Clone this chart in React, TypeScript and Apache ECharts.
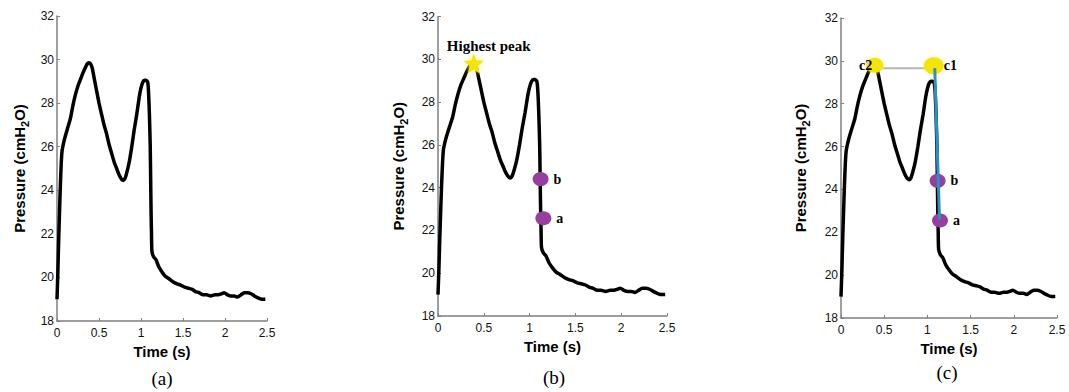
import React, { useEffect, useRef } from "react";
import * as echarts from "echarts";

// Pressure waveform
const time = [
  0.0, 0.01, 0.02, 0.03, 0.04, 0.05, 0.06, 0.08, 0.1, 0.13, 0.16, 0.19, 0.22, 0.25, 0.28, 0.31, 0.34, 0.36, 0.38, 0.4,
  0.42, 0.44, 0.46, 0.5, 0.53, 0.56, 0.59, 0.62, 0.65, 0.68, 0.71, 0.74, 0.77, 0.79, 0.81, 0.83, 0.86, 0.89, 0.92, 0.95,
  0.98, 1.0, 1.02, 1.04, 1.06, 1.08, 1.09, 1.1, 1.11, 1.115, 1.12, 1.125, 1.13, 1.15, 1.18, 1.21, 1.25, 1.29, 1.33, 1.38,
  1.43, 1.47, 1.52, 1.57, 1.61, 1.65, 1.69, 1.74, 1.78, 1.83, 1.88, 1.92, 1.96, 1.99, 2.03, 2.07, 2.11, 2.15, 2.19, 2.23,
  2.27, 2.31, 2.35, 2.4, 2.44, 2.48,
];
const pressure = [
  19.0, 20.2, 21.7, 23.0, 24.2, 25.2, 25.8, 26.2, 26.5, 26.9, 27.3, 27.9, 28.4, 28.8, 29.1, 29.4, 29.65, 29.8, 29.85, 29.8,
  29.6, 29.2, 28.8, 28.0, 27.5, 27.0, 26.6, 26.1, 25.7, 25.3, 25.0, 24.7, 24.5, 24.45, 24.55, 24.8, 25.3, 26.0, 26.8, 27.5,
  28.3, 28.7, 28.95, 29.05, 29.05, 28.95, 28.5, 27.5, 26.0, 24.5, 23.0, 22.0, 21.2, 20.95, 20.8, 20.5, 20.25, 20.05, 19.95, 19.8,
  19.7, 19.65, 19.55, 19.5, 19.45, 19.35, 19.3, 19.2, 19.2, 19.15, 19.2, 19.2, 19.25, 19.3, 19.2, 19.15, 19.15, 19.1, 19.2, 19.3,
  19.3, 19.25, 19.15, 19.05, 19.0, 19.0,
];

// Annotation points
const highestPeak = [0.39, 29.8];
const pointB_b = [1.12, 24.4];
const pointA_b = [1.15, 22.57];
const pointC2 = [0.39, 29.8];
const pointC1 = [1.074, 29.77];
const pointB_c = [1.118, 24.4];
const pointA_c = [1.146, 22.55];
const grayLine = [[0.39, 29.66], [1.085, 29.66]];
const blueLine = [[1.085, 29.66], [1.14, 22.6]];

const panelLabels = ["(a)", "(b)", "(c)"];
const xRange = [0, 2.5, 0.5];
const yRange = [18, 32, 2];

const SANS = "Arial";
const SERIF = "Liberation Serif";
const STAR = "path://M12 0 L15 8 L24 9 L17 15 L19 24 L12 19 L5 24 L7 15 L0 9 L9 8 Z";
const YELLOW = "#f4e40c";
const PURPLE = "#973f9f";

export default function App() {
  const ref = useRef<HTMLDivElement>(null);
  useEffect(() => {
    if (!ref.current) return;
    const chart = echarts.init(ref.current, null, { renderer: "svg" });
    const curve = time.map((t, i) => [t, pressure[i]]);

    const grids = [
      { left: 57, top: 16, width: 210, height: 305 },
      { left: 438, top: 16.5, width: 229, height: 299.5 },
      { left: 841, top: 18, width: 216, height: 300 },
    ];
    const xGaps = [19, 17, 18];
    const yGaps = [27, 29, 30];

    const axisLine = { show: true, lineStyle: { color: "#7f7f7f", width: 1.5 } };
    const xAxis = grids.map((_, i) => ({
      type: "value",
      gridIndex: i,
      min: xRange[0],
      max: xRange[1],
      interval: xRange[2],
      name: "Time (s)",
      nameLocation: "middle",
      nameGap: xGaps[i],
      nameTextStyle: { fontFamily: SANS, fontSize: 15, fontWeight: "bold", color: "#000" },
      axisLine,
      axisTick: { show: true, inside: true, length: 3, lineStyle: { color: "#7f7f7f" } },
      axisLabel: { fontFamily: SANS, fontSize: 12, color: "#111", margin: 6 },
      splitLine: { show: false },
    }));
    const yAxis = grids.map((_, i) => ({
      type: "value",
      gridIndex: i,
      min: yRange[0],
      max: yRange[1],
      interval: yRange[2],
      name: "{n|Pressure (cmH}{s|2}{n|O)}",
      nameLocation: "middle",
      nameGap: yGaps[i],
      nameTextStyle: {
        rich: {
          n: { fontFamily: SANS, fontSize: 15, fontWeight: "bold", color: "#000" },
          s: { fontFamily: SANS, fontSize: 11, fontWeight: "bold", color: "#000", padding: [11, 0, 0, 0] },
        },
      },
      axisLine,
      axisTick: { show: true, inside: true, length: 3, lineStyle: { color: "#7f7f7f" } },
      axisLabel: { fontFamily: SANS, fontSize: 12, color: "#111", margin: 3 },
      splitLine: { show: false },
    }));

    const curveSeries = grids.map((_, i) => ({
      type: "line",
      xAxisIndex: i,
      yAxisIndex: i,
      data: curve,
      showSymbol: false,
      symbol: "none",
      smooth: 0.2,
      lineStyle: { color: "#000", width: 3.5 },
      z: 2,
    }));

    const ptLabel = (pos: string, dist: number) => ({
      show: true,
      position: pos,
      distance: dist,
      fontFamily: SERIF,
      fontWeight: "bold",
      fontSize: 14,
      color: "#000",
    });

    const series: any[] = [
      ...curveSeries,
      // Panel b
      {
        type: "scatter",
        xAxisIndex: 1,
        yAxisIndex: 1,
        data: [highestPeak],
        symbol: STAR,
        symbolSize: 20,
        itemStyle: { color: YELLOW, opacity: 1, shadowBlur: 6, shadowColor: "#fff27a" },
        label: {
          ...ptLabel("top", 0),
          formatter: "Highest peak",
          fontSize: 15,
          offset: [15, 0],
        },
        z: 5,
      },
      {
        type: "scatter",
        xAxisIndex: 1,
        yAxisIndex: 1,
        data: [
          { value: pointB_b, name: "b" },
          { value: pointA_b, name: "a" },
        ],
        symbol: "circle",
        symbolSize: [16, 14],
        itemStyle: { color: PURPLE, opacity: 1 },
        label: { ...ptLabel("right", 5), formatter: "{b}" },
        z: 5,
      },
      // Panel c
      {
        type: "line",
        xAxisIndex: 2,
        yAxisIndex: 2,
        data: grayLine,
        symbol: "none",
        lineStyle: { color: "#b4b4b4", width: 2 },
        z: 3,
      },
      {
        type: "scatter",
        xAxisIndex: 2,
        yAxisIndex: 2,
        data: [
          { value: pointC2, name: "c2", symbolSize: [17, 15], label: { position: "left", distance: -6 } },
          { value: pointC1, name: "c1", symbolSize: [20, 17], label: { position: "right", distance: 0 } },
        ],
        symbol: "circle",
        itemStyle: { color: YELLOW, opacity: 1, shadowBlur: 4, shadowColor: "#fff27a" },
        label: { ...ptLabel("right", 0), formatter: "{b}" },
        z: 4,
      },
      {
        type: "scatter",
        xAxisIndex: 2,
        yAxisIndex: 2,
        data: [
          { value: pointB_c, name: "b" },
          { value: pointA_c, name: "a" },
        ],
        symbol: "circle",
        symbolSize: [16, 14],
        itemStyle: { color: PURPLE, opacity: 1 },
        label: { ...ptLabel("right", 5), formatter: "{b}" },
        z: 4,
      },
      {
        type: "line",
        xAxisIndex: 2,
        yAxisIndex: 2,
        data: blueLine,
        symbol: "none",
        lineStyle: { color: "#2f8fc0", width: 3 },
        z: 6,
      },
    ];

    const captionX = [162, 554, 947];
    const captionY = [378, 377, 372];
    chart.setOption({
      animation: false,
      backgroundColor: "#fff",
      grid: grids,
      xAxis,
      yAxis,
      series,
      graphic: panelLabels.map((t, i) => ({
        type: "text",
        x: captionX[i],
        y: captionY[i],
        style: {
          text: t,
          font: `19px "${SERIF}"`,
          fill: "#000",
          textAlign: "center",
          textVerticalAlign: "middle",
        },
      })),
    });
    return () => chart.dispose();
  }, []);
  return (
    <div
      ref={ref}
      style={{ position: "absolute", left: 0, top: 0, width: 1069, height: 392 }}
    />
  );
}
